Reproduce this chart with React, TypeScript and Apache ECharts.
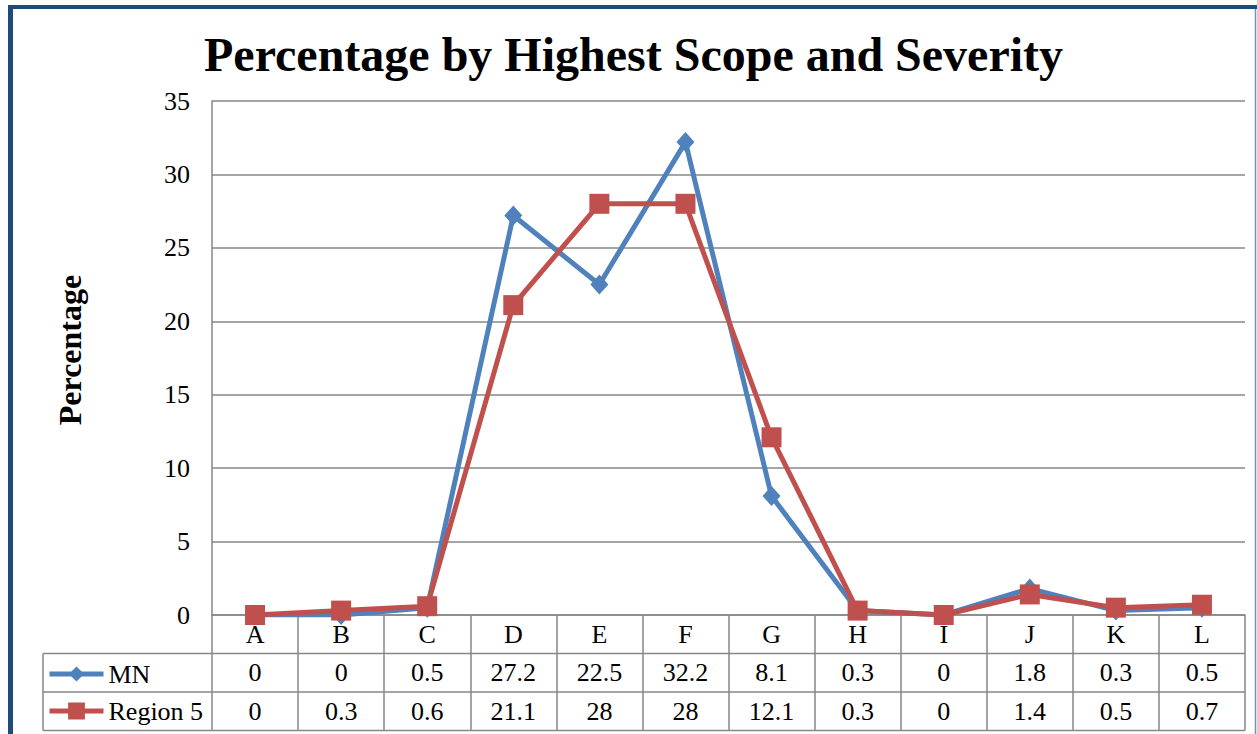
import React, { useEffect, useRef } from "react";
import * as echarts from "echarts";

const categories = ["A", "B", "C", "D", "E", "F", "G", "H", "I", "J", "K", "L"];
const mnValues = [0, 0, 0.5, 27.2, 22.5, 32.2, 8.1, 0.3, 0, 1.8, 0.3, 0.5];
const region5Values = [0, 0.3, 0.6, 21.1, 28, 28, 12.1, 0.3, 0, 1.4, 0.5, 0.7];
const seriesNames = ["MN", "Region 5"];
const titleText = "Percentage by Highest Scope and Severity";
const yAxisTitle = "Percentage";

const SERIF = "'Liberation Serif', 'Times New Roman', serif";
const GRID_COLOR = "#878787";
const BLUE = "#4F81BD";
const RED = "#C0504D";
const FS = 26;

export default function App() {
  const ref = useRef<HTMLDivElement>(null);

  useEffect(() => {
    if (!ref.current) return;
    const chart = echarts.init(ref.current, null, { renderer: "svg" });

    const gridLeft = 212;
    const gridRight = 1245;
    const gridTop = 101;
    const axisY = 615;
    const rowH = 38.5;
    const tableLeft = 43;

    const hLine = (x1: number, y: number, x2: number) => ({
      type: "line",
      shape: { x1, y1: y, x2, y2: y },
      style: { stroke: GRID_COLOR, lineWidth: 1.5 },
      silent: true,
    });

    chart.setOption({
      animation: false,
      backgroundColor: "#ffffff",
      title: {
        text: titleText,
        left: 199,
        top: 25,
        textStyle: {
          fontFamily: SERIF,
          fontSize: 48,
          fontWeight: "bold",
          color: "#000",
        },
      },
      grid: {
        left: gridLeft,
        right: 1257 - gridRight,
        top: gridTop,
        bottom: 734 - axisY,
        containLabel: false,
      },
      legend: [
        {
          data: [seriesNames[0]],
          left: 47,
          top: 661,
          padding: 0,
          itemWidth: 54,
          itemHeight: 19,
          lineStyle: { width: 5 },
          textStyle: { fontFamily: SERIF, fontSize: FS, color: "#000" },
        },
        {
          data: [seriesNames[1]],
          left: 47,
          top: 698,
          padding: 0,
          itemWidth: 54,
          itemHeight: 21,
          lineStyle: { width: 5 },
          textStyle: { fontFamily: SERIF, fontSize: FS, color: "#000" },
        },
      ],
      xAxis: {
        type: "category",
        data: categories,
        boundaryGap: true,
        axisLine: { show: true, lineStyle: { color: GRID_COLOR, width: 1.5 } },
        axisTick: {
          show: true,
          inside: false,
          length: rowH * 3,
          lineStyle: { color: GRID_COLOR, width: 1.5 },
        },
        axisLabel: {
          interval: 0,
          margin: 0,
          formatter: (value: string, index: number) =>
            `{c|${value}}\n{v|${mnValues[index]}}\n{v|${region5Values[index]}}`,
          rich: {
            c: { fontFamily: SERIF, fontSize: FS, lineHeight: rowH, color: "#000" },
            v: { fontFamily: SERIF, fontSize: FS, lineHeight: rowH, color: "#000" },
          },
        },
        splitLine: { show: false },
      },
      yAxis: {
        type: "value",
        min: 0,
        max: 35,
        interval: 5,
        axisLine: { show: true, lineStyle: { color: GRID_COLOR, width: 1.5 } },
        axisTick: { show: false },
        axisLabel: {
          margin: 22,
          fontFamily: SERIF,
          fontSize: FS,
          color: "#000",
        },
        splitLine: { show: true, lineStyle: { color: GRID_COLOR, width: 1.5 } },
      },
      series: [
        {
          name: seriesNames[0],
          type: "line",
          data: mnValues,
          symbol: "diamond",
          symbolSize: [18, 20],
          lineStyle: { color: BLUE, width: 5 },
          itemStyle: { color: BLUE },
        },
        {
          name: seriesNames[1],
          type: "line",
          data: region5Values,
          symbol: "rect",
          symbolSize: 20,
          lineStyle: { color: RED, width: 5 },
          itemStyle: { color: RED },
        },
      ],
      graphic: [
        hLine(tableLeft, axisY + rowH, gridRight),
        hLine(tableLeft, axisY + rowH * 2, gridRight),
        hLine(tableLeft, axisY + rowH * 3, gridRight),
        {
          type: "line",
          shape: { x1: tableLeft, y1: axisY + rowH, x2: tableLeft, y2: axisY + rowH * 3 },
          style: { stroke: GRID_COLOR, lineWidth: 1.5 },
          silent: true,
        },
        {
          type: "text",
          x: 70,
          y: 350,
          rotation: Math.PI / 2,
          style: {
            text: yAxisTitle,
            fontFamily: SERIF,
            fontSize: 32,
            fontWeight: "bold",
            fill: "#000",
            align: "center",
            verticalAlign: "middle",
          },
        },
        {
          type: "line",
          shape: { x1: 8, y1: 7, x2: 1257, y2: 7 },
          style: { stroke: "#1F4A7E", lineWidth: 4 },
          silent: true,
        },
        {
          type: "line",
          shape: { x1: 10.5, y1: 5, x2: 10.5, y2: 734 },
          style: { stroke: "#1F4A7E", lineWidth: 5 },
          silent: true,
        },
        {
          type: "line",
          shape: { x1: 1255.5, y1: 9, x2: 1255.5, y2: 734 },
          style: { stroke: "#7A90AE", lineWidth: 1.5 },
          silent: true,
        },
      ],
    });

    return () => {
      chart.dispose();
    };
  }, []);

  return (
    <div
      ref={ref}
      style={{ position: "absolute", left: 0, top: 0, width: 1257, height: 734 }}
    />
  );
}
